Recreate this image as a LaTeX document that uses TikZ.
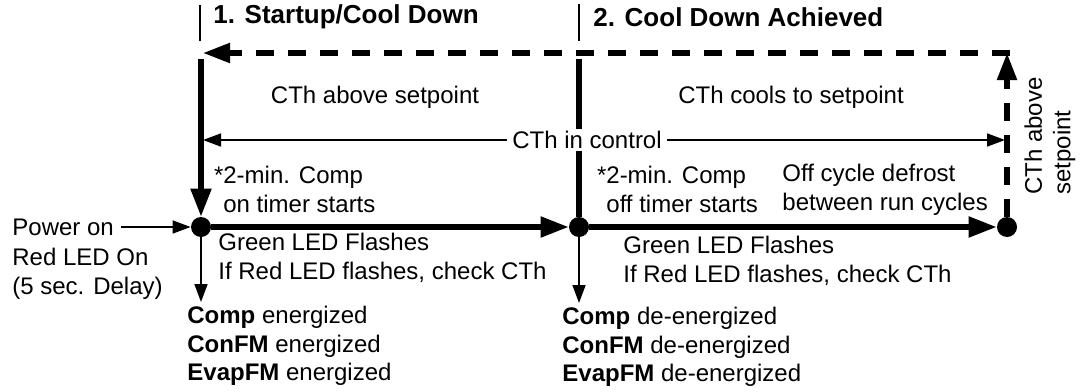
\documentclass[tikz,border=0pt]{standalone}
\usepackage{fontspec}
\setmainfont{Liberation Sans}
\usetikzlibrary{arrows.meta, positioning}

\begin{document}
\begin{tikzpicture}[
    x=0.5pt, y=-0.5pt,
    txt/.style={inner sep=0pt, align=left, font=\fontsize{12}{14.25}\selectfont},
    hdr/.style={inner sep=0pt, anchor=west, font=\fontsize{13}{15}\selectfont\bfseries},
    dot/.style={circle, fill, inner sep=0pt, minimum size=10pt},
    thickline/.style={line width=2.6pt},
    mainarr/.style={-{Triangle[length=14pt, width=10pt]}, line width=2.6pt},
    dasharr/.style={-{Triangle[length=13.5pt, width=9.5pt]}, line width=2.6pt, dash pattern=on 9pt off 7pt},
    thinarr/.style={-{Triangle[length=9pt, width=6.5pt]}, line width=0.8pt},
]
\useasboundingbox (0,0) rectangle (1080,391);

% phase headers
\node[hdr] (hdr1) at (213,17) {1. Startup/Cool Down};
\node[hdr] (hdr2) at (593,17) {2. Cool Down Achieved};
\draw[line width=0.8pt] (200,5) -- (200,41);
\draw[line width=0.8pt] (579,4) -- (579,41);

% states
\node[dot] (d1) at (201,227) {};
\node[dot] (d2) at (579,227) {};
\node[dot] (d3) at (1007,227) {};

\coordinate (top1) at (201,59);
\coordinate (top2) at (579,59);
\coordinate (crn) at (1007,53);
\coordinate (back) at (203,53);
\coordinate (ctrlL) at (203,140);
\coordinate (ctrlR) at (1005,140);

\node[txt] (above1) at (375,97) {CTh above setpoint};
\node[txt] (cools) at (791,97) {CTh cools to setpoint};

\draw[thickline] (top2) -- (d2);
\node[txt, fill=white, inner xsep=2.5pt, inner ysep=1pt] (ctrl) at (587,140) {CTh in control};
\draw[thinarr] (ctrl) -- (ctrlL);
\draw[thinarr] (ctrl) -- (ctrlR);

\draw[mainarr] (top1) -- (d1);
\draw[mainarr] (d1) -- (d2);
\draw[mainarr] (d2) -- (d3);
\draw[dasharr] (d3) -- (crn);
\draw[dasharr] ([xshift=1.3pt]crn) -- (back);

\node[txt, rotate=90, align=left] (ctha) at (1050,136) {CTh above\\setpoint};

% timers and LEDs
\node[txt, anchor=north west] (timer1) at (223,166) {\llap{*}2-min. Comp\\on timer starts};
\node[txt, anchor=north west] (timer2) at (606,166) {\llap{*}2-min. Comp\\off timer starts};
\node[txt, anchor=north west] (defrost) at (782,164) {Off cycle defrost\\between run cycles};
\node[txt, anchor=north west] (led1) at (218,233) {Green LED Flashes\\If Red LED flashes, check CTh};
\node[txt, anchor=north west] (led2) at (623,236) {Green LED Flashes\\If Red LED flashes, check CTh};

% outputs
\node[txt, anchor=north west] (on1) at (187,306) {\textbf{Comp} energized\\\textbf{ConFM} energized\\\textbf{EvapFM} energized};
\node[txt, anchor=north west] (off2) at (562,307) {\textbf{Comp} de-energized\\\textbf{ConFM} de-energized\\\textbf{EvapFM} de-energized};
\draw[thinarr, shorten >=2pt] (d1) -- (d1 |- on1.north);
\draw[thinarr, shorten >=2pt] (d2) -- (d2 |- off2.north);

% power on
\node[txt, anchor=west, inner xsep=3.5pt] (pwr) at (5,227) {Power on};
\node[txt, anchor=north west] (delay) at (12,248) {Red LED On\\(5 sec. Delay)};
\draw[thinarr] (pwr) -- (d1);

\end{tikzpicture}
\end{document}
